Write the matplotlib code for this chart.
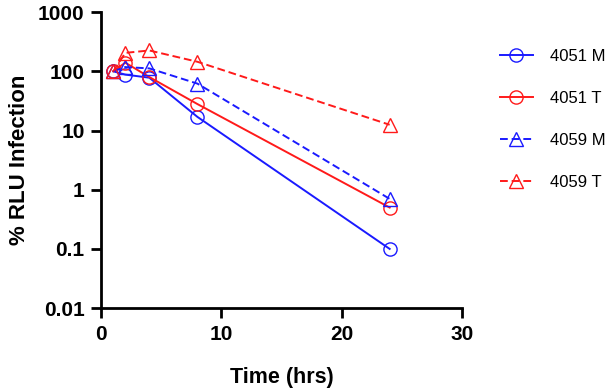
import matplotlib
matplotlib.use("Agg")
import matplotlib.pyplot as plt
from matplotlib.ticker import FixedLocator, NullLocator

plt.rcParams['font.family'] = ['Liberation Sans', 'DejaVu Sans']

time = [1, 2, 4, 8, 24]
m4051 = [100, 88, 78, 17, 0.1]
t4051 = [100, 140, 80, 28, 0.5]
m4059 = [100, 118, 112, 62, 0.7]
t4059 = [100, 205, 225, 145, 12.5]
labels = ["4051 M", "4051 T", "4059 M", "4059 T"]
yticks = [0.01, 0.1, 1, 10, 100, 1000]
yticklabels = ["0.01", "0.1", "1", "10", "100", "1000"]
xticks = [0, 10, 20, 30]

blue = "#1a1aff"
red = "#ff1a1a"

fig = plt.figure(figsize=(6.10, 3.91), dpi=100)
ax = fig.add_axes([0.166, 0.212, 0.591, 0.757])

common = dict(markersize=9.5, markerfacecolor='none', markeredgewidth=1.0, linewidth=1.4)
ax.plot(time, m4051, color=blue, marker='o', linestyle='-', label=labels[0], **common)
ax.plot(time, t4051, color=red, marker='o', linestyle='-', label=labels[1], **common)
ax.plot(time, m4059, color=blue, marker='^', linestyle=(0, (4, 2)), label=labels[2], **common)
ax.plot(time, t4059, color=red, marker='^', linestyle=(0, (4, 2)), label=labels[3], **common)

ax.set_yscale('log')
ax.set_ylim(0.01, 1000)
ax.set_xlim(0, 30)
ax.yaxis.set_major_locator(FixedLocator(yticks))
ax.yaxis.set_minor_locator(NullLocator())
ax.set_yticklabels(yticklabels)
ax.set_xticks(xticks)

for s in ['top', 'right']:
    ax.spines[s].set_visible(False)
for s in ['left', 'bottom']:
    ax.spines[s].set_linewidth(2)
ax.tick_params(axis='both', width=2, length=7, labelsize=15, pad=5)
for lab in ax.get_xticklabels() + ax.get_yticklabels():
    lab.set_fontweight('bold')

ax.set_xlabel("Time (hrs)", fontsize=15.5, fontweight='bold', labelpad=17)
ax.set_ylabel("% RLU Infection", fontsize=16, fontweight='bold', labelpad=6)

leg = ax.legend(loc='upper left', bbox_to_anchor=(0.808, 0.893), bbox_transform=fig.transFigure,
                borderaxespad=0, frameon=False, fontsize=12, handlelength=2.0,
                labelspacing=1.62, handletextpad=1.0)

fig.savefig("out.png", dpi=100)
